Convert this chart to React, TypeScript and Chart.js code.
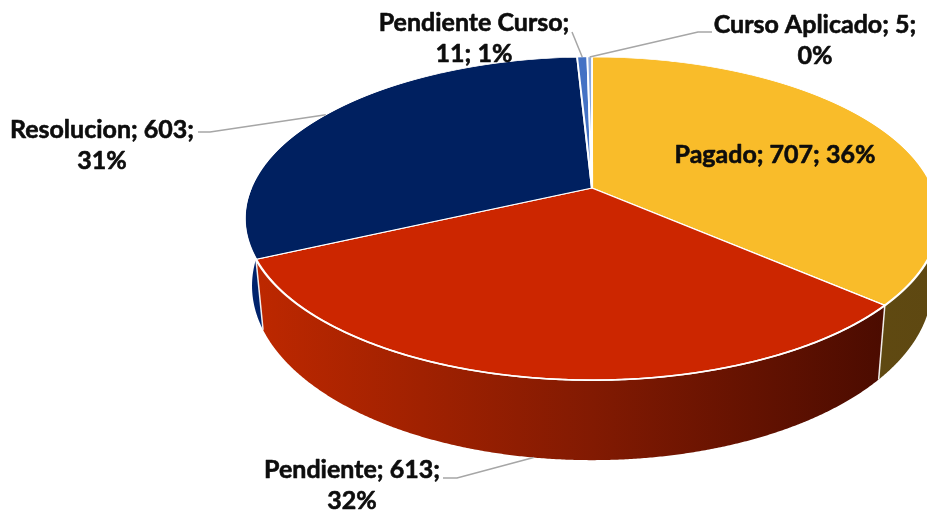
import { useEffect, useRef } from 'react';
import { Chart, registerables } from 'chart.js';

Chart.register(...registerables);

// ---- data ----
const categories = ['Pagado', 'Pendiente', 'Resolucion', 'Pendiente Curso', 'Curso Aplicado'];
const values = [707, 613, 603, 11, 5];
const percentLabels = ['36%', '32%', '31%', '1%', '0%'];
// how many of the "name; value; pct" parts go on the first label line
const firstLineParts = [3, 2, 2, 1, 2];

// ---- styles ----
const topColors = ['#F9BC2A', '#CC2600', '#002060', '#4472C4', '#8FAADC'];
const sideStops: string[][] = [
  ['#6E5617', '#5E4811'],
  ['#BE2800', '#821A02', '#420900'],
  ['#00236C', '#001A50'],
  ['#2F5597', '#203D70'],
  ['#6F8CC0', '#5670A0'],
];

// ---- layout (pixels) : perspective projection of the pie plane ----
const W = 927;
const H = 514;
const CX = 592; // screen x of pie centre
const Y0 = 188; // screen y of pie centre
const PA = 341; // horizontal scale
const PB = 155.8; // vertical scale
const PP = 0.189; // perspective strength
const PD = 64.9; // wall depth
const BOTTOM_SHRINK = 0.979; // bottom rim is a little narrower (converging walls)
const FONT_SIZE = 25;
const LINE_H = 31;
const labelPos: number[][] = [
  [775, 163],
  [352, 478],
  [102, 138],
  [474, 31],
  [815, 33],
];
const leaderStart: number[][][] = [
  [],
  [[443, 478], [457, 478]],
  [[198, 132], [210, 132]],
  [[572, 32]],
  [[712, 32], [698, 32]],
];

function labelLines(i: number): string[] {
  const parts = [categories[i], String(values[i]), percentLabels[i]];
  const n = firstLineParts[i];
  const first = parts.slice(0, n).join('; ') + (n < parts.length ? ';' : '');
  const rest = parts.slice(n).join('; ');
  return rest ? [first, rest] : [first];
}

function proj(theta: number) {
  const u = Math.cos(theta);
  const v = Math.sin(theta);
  const w = 1 / (1 - PP * v);
  return { x: CX + PA * u * w, y: Y0 + PB * v * w, w };
}
function projBottom(theta: number) {
  const p = proj(theta);
  return { x: CX + (p.x - CX) * BOTTOM_SHRINK, y: p.y + PD * p.w };
}

const pie3d = {
  id: 'pie3d',
  beforeDatasetsDraw(chart: any) {
    const meta = chart.getDatasetMeta(0);
    const arcs = meta.data;
    if (!arcs.length) return false;
    const ctx = chart.ctx as CanvasRenderingContext2D;
    const ax = arcs[0].x;
    const ay = arcs[0].y;
    const R = arcs[0].outerRadius;

    // ---- side walls (front half) ----
    ctx.save();
    arcs.forEach((arc: any, i: number) => {
      const a1 = Math.max(arc.startAngle, 0);
      const a2 = Math.min(arc.endAngle, Math.PI);
      if (a2 <= a1) return;
      const n = Math.max(4, Math.ceil((a2 - a1) / 0.005));
      const g = ctx.createLinearGradient(CX - PA, 0, CX + PA, 0);
      const stops = sideStops[i];
      stops.forEach((c, k) => g.addColorStop(k / (stops.length - 1), c));
      ctx.beginPath();
      for (let k = 0; k <= n; k++) {
        const p = proj(a1 + ((a2 - a1) * k) / n);
        if (k) ctx.lineTo(p.x, p.y);
        else ctx.moveTo(p.x, p.y);
      }
      for (let k = n; k >= 0; k--) {
        const p = projBottom(a1 + ((a2 - a1) * k) / n);
        ctx.lineTo(p.x, p.y);
      }
      ctx.closePath();
      ctx.fillStyle = g;
      ctx.fill();
    });
    ctx.strokeStyle = 'rgba(255,255,255,0.9)';
    ctx.lineWidth = 1.5;
    arcs.forEach((arc: any) => {
      const a = arc.endAngle;
      if (a > 0 && a < Math.PI) {
        const p = proj(a);
        const q = projBottom(a);
        ctx.beginPath();
        ctx.moveTo(p.x, p.y);
        ctx.lineTo(q.x, q.y);
        ctx.stroke();
      }
    });
    ctx.restore();

    // ---- top face: library arcs drawn strip by strip through the perspective map ----
    const yTop = Math.floor(Y0 - PB / (1 + PP)) - 4;
    const yBot = Math.ceil(Y0 + PB / (1 - PP)) + 4;
    for (let y = yTop; y < yBot; y++) {
      const yc = y + 0.5;
      const t = (yc - Y0) / PB;
      const v = t / (1 + PP * t);
      const w = 1 / (1 - PP * v);
      ctx.save();
      ctx.beginPath();
      ctx.rect(0, y, W, 1);
      ctx.clip();
      ctx.translate(CX, yc);
      ctx.scale((PA * w) / R, (PB * w * w) / R);
      ctx.translate(-ax, -(ay + v * R));
      arcs.forEach((arc: any) => arc.draw(ctx, chart.chartArea));
      ctx.restore();
    }

    // front rim highlight
    ctx.save();
    ctx.strokeStyle = '#ffffff';
    ctx.lineWidth = 1.6;
    ctx.beginPath();
    for (let k = 0; k <= 400; k++) {
      const p = proj((Math.PI * k) / 400);
      if (k) ctx.lineTo(p.x, p.y);
      else ctx.moveTo(p.x, p.y);
    }
    ctx.stroke();
    ctx.restore();
    return false;
  },
  afterDraw(chart: any) {
    const ctx = chart.ctx as CanvasRenderingContext2D;
    const arcs = chart.getDatasetMeta(0).data;
    ctx.save();
    // leader lines
    ctx.strokeStyle = '#A6A6A6';
    ctx.lineWidth = 1.5;
    arcs.forEach((arc: any, i: number) => {
      const pts = leaderStart[i];
      if (!pts.length) return;
      const mid = (arc.startAngle + arc.endAngle) / 2;
      const p = mid > 0 && mid < Math.PI ? projBottom(mid) : proj(mid);
      ctx.beginPath();
      ctx.moveTo(pts[0][0], pts[0][1]);
      for (let k = 1; k < pts.length; k++) ctx.lineTo(pts[k][0], pts[k][1]);
      ctx.lineTo(p.x, p.y);
      ctx.stroke();
    });
    // labels
    ctx.fillStyle = '#0D0D0D';
    ctx.strokeStyle = '#0D0D0D';
    ctx.lineWidth = 0.6;
    ctx.lineJoin = 'round';
    ctx.font = `bold ${FONT_SIZE}px Lato, "Open Sans", sans-serif`;
    ctx.textAlign = 'center';
    ctx.textBaseline = 'alphabetic';
    categories.forEach((_, i) => {
      labelLines(i).forEach((t, k) => {
        const x = labelPos[i][0];
        const y = labelPos[i][1] + k * LINE_H;
        ctx.fillText(t, x, y);
        ctx.strokeText(t, x, y);
      });
    });
    ctx.restore();
  },
};

export default function App() {
  const ref = useRef<HTMLCanvasElement>(null);
  useEffect(() => {
    if (!ref.current) return;
    const chart = new Chart(ref.current, {
      type: 'pie',
      data: {
        labels: categories,
        datasets: [
          {
            data: values,
            backgroundColor: topColors,
            borderColor: '#ffffff',
            borderWidth: 1.6,
            hoverOffset: 0,
          } as any,
        ],
      },
      options: {
        animation: false,
        responsive: false,
        events: [],
        plugins: {
          legend: { display: false },
          tooltip: { enabled: false },
        },
      },
      plugins: [pie3d],
    });
    return () => chart.destroy();
  }, []);
  return (
    <div style={{ position: 'fixed', left: 0, top: 0, width: W, height: H, background: '#fff' }}>
      <canvas ref={ref} width={W} height={H} style={{ width: W, height: H, display: 'block' }} />
    </div>
  );
}
